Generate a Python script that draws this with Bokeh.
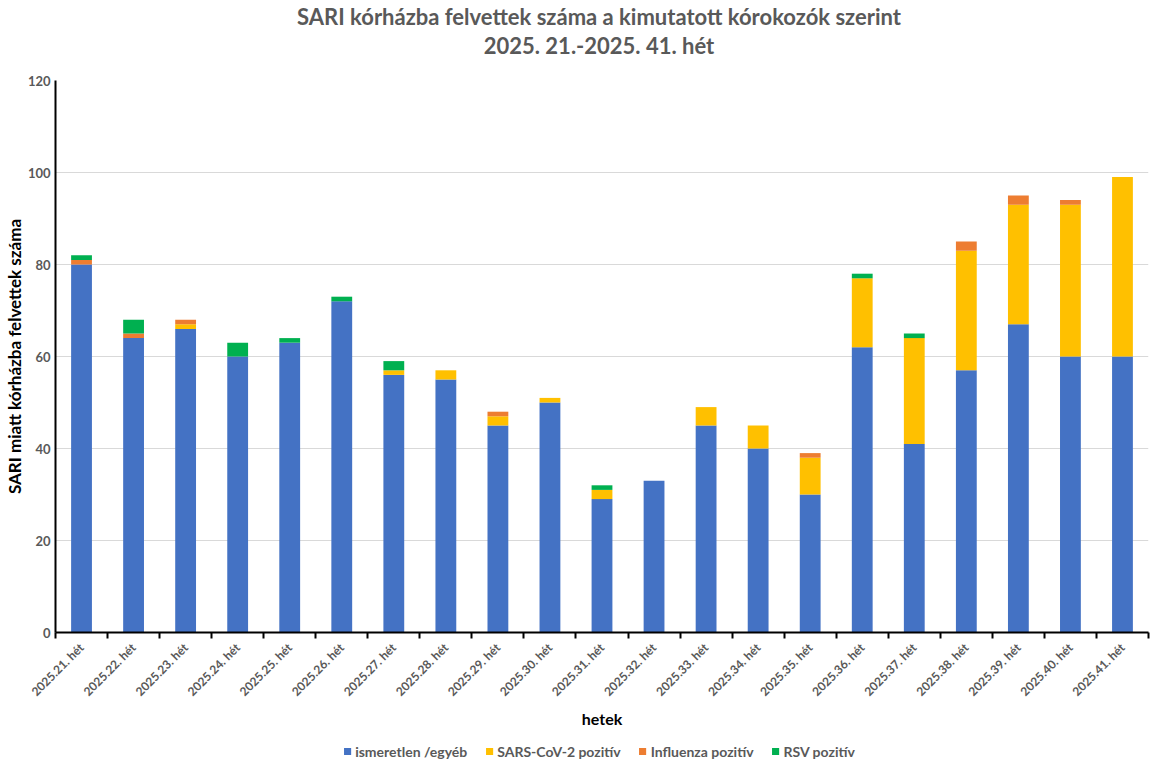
import math
from bokeh.plotting import figure
from bokeh.layouts import column
from bokeh.models import (ColumnDataSource, Range1d, FixedTicker, Legend, LegendItem, Title)
from bokeh.embed import file_html
from bokeh.resources import INLINE

weeks = [f"2025.{w}. hét" for w in range(21, 42)]
ismeretlen = [80, 64, 66, 60, 63, 72, 56, 55, 45, 50, 29, 33, 45, 40, 30, 62, 41, 57, 67, 60, 60]
sars = [0, 0, 1, 0, 0, 0, 1, 2, 2, 1, 2, 0, 4, 5, 8, 15, 23, 26, 26, 33, 39]
influenza = [1, 1, 1, 0, 0, 0, 0, 0, 1, 0, 0, 0, 0, 0, 1, 0, 0, 2, 2, 1, 0]
rsv = [1, 3, 0, 3, 1, 1, 2, 0, 0, 0, 1, 0, 0, 0, 0, 1, 1, 0, 0, 0, 0]

series = ["ismeretlen", "sars", "influenza", "rsv"]
series_labels = ["ismeretlen /egyéb", "SARS-CoV-2 pozitív", "Influenza pozitív", "RSV pozitív"]
colors = ["#4472C4", "#FFC000", "#ED7D31", "#00B050"]
y_ticks = [0, 20, 40, 60, 80, 100, 120]
title_line1 = "SARI kórházba felvettek száma a kimutatott kórokozók szerint"
title_line2 = "2025. 21.-2025. 41. hét"

xs = list(range(1, len(weeks) + 1))
source = ColumnDataSource(dict(x=xs, ismeretlen=ismeretlen, sars=sars, influenza=influenza, rsv=rsv))

FONT = "Lato"
GREY = "#595959"

# title strip
p0 = figure(width=1147, height=72, output_backend="svg", toolbar_location=None,
            x_range=Range1d(0, 1), y_range=Range1d(0, 1),
            x_axis_location=None, y_axis_location=None,
            min_border_left=0, min_border_right=0, min_border_top=0, min_border_bottom=0)
p0.outline_line_color = None
p0.grid.grid_line_color = None
p0.title.text = ""
t2 = Title(text=title_line2, align="center", text_font=FONT,
           text_font_size="22px", text_font_style="bold", text_color=GREY, standoff=0)
t1 = Title(text=title_line1, align="center", text_font=FONT,
           text_font_size="22px", text_font_style="bold", text_color=GREY, standoff=0)
p0.add_layout(t2, "above")
p0.add_layout(t1, "above")

# main chart
p = figure(frame_width=1093, frame_height=552, output_backend="svg", toolbar_location=None,
           x_range=Range1d(0.5, len(weeks) + 0.5), y_range=Range1d(0, 120),
           min_border_left=0, min_border_right=5, min_border_top=8, min_border_bottom=0)
p.outline_line_color = None
p.title.text = ""

p.vbar_stack(series, x="x", width=0.4, source=source, color=colors, line_color=None)

yax = p.left[0]
yax.ticker = FixedTicker(ticks=y_ticks)
yax.axis_line_color = "black"
yax.axis_line_width = 2
yax.major_tick_line_color = None
yax.minor_tick_line_color = None
yax.major_tick_out = 0
yax.major_tick_in = 0
yax.major_label_text_font = FONT
yax.major_label_text_font_size = "13px"
yax.major_label_text_font_style = "bold"
yax.major_label_text_color = GREY
yax.axis_label = "SARI miatt kórházba felvettek száma"
yax.axis_label_text_font = FONT
yax.axis_label_text_font_size = "17px"
yax.axis_label_text_font_style = "bold"
yax.axis_label_text_color = "black"
yax.axis_label_standoff = 0
yax.major_label_standoff = 5

xax = p.below[0]
xax.ticker = FixedTicker(ticks=xs, minor_ticks=[x - 0.5 for x in xs] + [len(xs) + 0.5])
xax.major_label_overrides = {x: w for x, w in zip(xs, weeks)}
xax.major_label_orientation = math.pi / 4
xax.axis_line_color = "black"
xax.axis_line_width = 2
xax.major_tick_line_color = None
xax.major_tick_out = 0
xax.minor_tick_line_color = "black"
xax.minor_tick_line_width = 2
xax.minor_tick_out = 6
xax.minor_tick_in = 0
xax.major_label_text_font = FONT
xax.major_label_text_font_size = "12px"
xax.major_label_text_font_style = "bold"
xax.major_label_text_color = GREY
xax.major_label_standoff = 7
xax.axis_label = "hetek"
xax.axis_label_text_font = FONT
xax.axis_label_text_font_size = "16px"
xax.axis_label_text_font_style = "bold"
xax.axis_label_text_color = "black"
xax.axis_label_standoff = 2

p.xgrid.grid_line_color = None
p.ygrid.grid_line_color = "#D9D9D9"
p.ygrid.grid_line_width = 1
p.ygrid.ticker = FixedTicker(ticks=y_ticks[1:])

# legend strip below the chart
p2 = figure(width=1147, height=30, output_backend="svg", toolbar_location=None,
            x_range=Range1d(0, 1), y_range=Range1d(1000, 1001),
            x_axis_location=None, y_axis_location=None,
            min_border_left=0, min_border_right=0, min_border_top=10, min_border_bottom=0)
p2.outline_line_color = None
p2.grid.grid_line_color = None
leg_renderers = p2.vbar_stack(series, x="x", width=0.4, source=source, color=colors, line_color=None)
legend = Legend(items=[LegendItem(label=l, renderers=[r]) for l, r in zip(series_labels, leg_renderers)],
                orientation="horizontal", location="center", border_line_color=None,
                label_text_font=FONT, label_text_font_size="14px", label_text_font_style="bold",
                label_text_color=GREY, glyph_width=9, glyph_height=9, spacing=17,
                padding=0, margin=0, label_standoff=4, label_height=14)
p2.add_layout(legend, "center")

layout = column(p0, p, p2, spacing=0)
open("out.html", "w").write(file_html(layout, INLINE))
